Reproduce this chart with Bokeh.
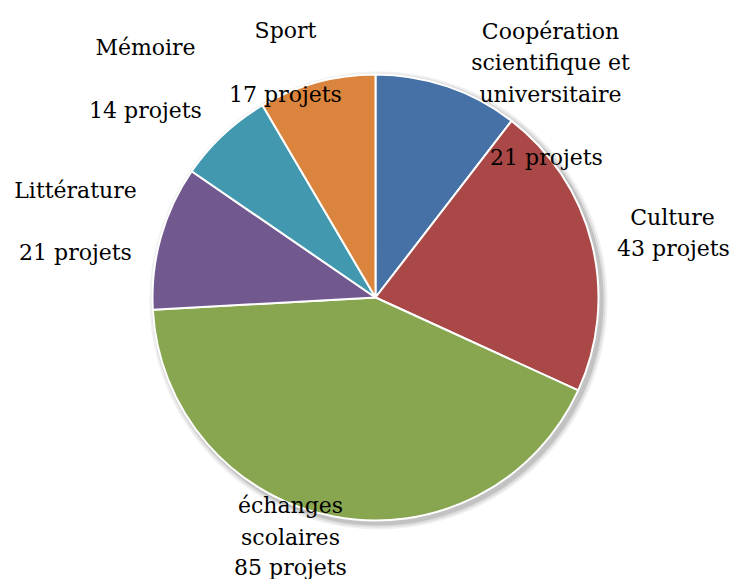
import math
from bokeh.plotting import figure
from bokeh.models import ColumnDataSource
from bokeh.core.properties import value
from bokeh.embed import file_html
from bokeh.resources import INLINE

# ---- data ----
categories = ["Coopération\nscientifique et\nuniversitaire", "Culture",
              "échanges\nscolaires", "Littérature", "Mémoire", "Sport"]
projects = [21, 43, 85, 21, 14, 17]
colors = ["#4571A6", "#A94846", "#88A54F", "#71588F", "#4298AF", "#DB843D"]

# ---- layout (pixel-like data space, y up) ----
W, H = 735, 579
cx, cy, r = 375, H - 297, 223
name_pos = [(550, 62), (672, 217), (290, 521), (75, 190), (145, 47), (285, 30)]
count_pos = [(546, 157), (673, 248), (290, 567), (75, 252), (145, 110), (285, 94)]

total = sum(projects)
starts, ends = [], []
acc = 0
for v in projects:
    starts.append(math.pi / 2 - 2 * math.pi * acc / total)
    acc += v
    ends.append(math.pi / 2 - 2 * math.pi * acc / total)

src = ColumnDataSource(dict(
    x=[cx] * len(projects), y=[cy] * len(projects),
    start=starts, end=ends, color=colors))

p = figure(width=W, height=H, x_range=(0, W), y_range=(0, H),
           output_backend="svg", toolbar_location=None,
           min_border=0, outline_line_color=None)
p.axis.visible = False
p.grid.visible = False
p.background_fill_color = "white"
p.border_fill_color = "white"

# soft shadow
for k, a in [(6, 0.06), (4, 0.08), (2, 0.12)]:
    p.circle(x=[cx + 3], y=[cy - 3], radius=r + k, fill_color="#000000",
             fill_alpha=a, line_color=None)

p.wedge(x="x", y="y", radius=r, start_angle="start", end_angle="end",
        direction="clock", fill_color="color", line_color="white",
        line_width=2, source=src)

font = value("DejaVu Serif")
p.text(x=[q[0] for q in name_pos], y=[H - q[1] for q in name_pos],
       text=categories, text_font=font, text_font_size="22px",
       text_align="center", text_baseline="middle", text_line_height=1.26,
       text_color="black")
p.text(x=[q[0] for q in count_pos], y=[H - q[1] for q in count_pos],
       text=[f"{v} projets" for v in projects], text_font=font,
       text_font_size="22px", text_align="center", text_baseline="middle",
       text_color="black")

open("out.html", "w").write(file_html(p, INLINE))
